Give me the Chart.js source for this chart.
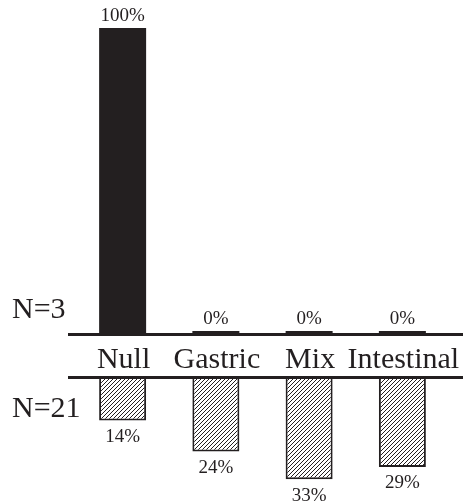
<!DOCTYPE html>
<html>
<head>
<meta charset="utf-8">
<script src="https://cdn.jsdelivr.net/npm/chart.js@4.4.1/dist/chart.umd.min.js"></script>
<style>
  body { margin: 0; background: #fff; }
  canvas { display: block; }
</style>
</head>
<body>
<canvas id="topChart" width="473" height="336"></canvas>
<canvas id="bottomChart" width="473" height="167"></canvas>
<script>
const categories = ['Null', 'Gastric', 'Mix', 'Intestinal'];
const n3Values = [100, 0, 0, 0];
const n21Values = [14, 24, 33, 29];
const groupLabels = ['N=3', 'N=21'];

const ink = '#231f20';
const serif = '"Liberation Serif", "Times New Roman", serif';

// diagonal hatch used for the N=21 bars
function makeHatch() {
    const c = document.createElement('canvas');
    c.width = 4;
    c.height = 4;
    const g = c.getContext('2d');
    g.fillStyle = '#fff';
    g.fillRect(0, 0, 4, 4);
    g.strokeStyle = ink;
    g.lineWidth = 1;
    g.beginPath();
    g.moveTo(0, 4); g.lineTo(4, 0);
    g.moveTo(-1, 1); g.lineTo(1, -1);
    g.moveTo(3, 5); g.lineTo(5, 3);
    g.stroke();
    return g.createPattern(c, 'repeat');
}

const topDecor = {
    id: 'topDecor',
    afterDatasetsDraw(chart) {
        const ctx = chart.ctx;
        const area = chart.chartArea;
        const y0 = chart.scales.y.getPixelForValue(0);
        ctx.save();
        ctx.strokeStyle = ink;
        ctx.lineWidth = 3;
        ctx.beginPath();
        ctx.moveTo(area.left - 8, y0 + 0.5);
        ctx.lineTo(area.right + 14, y0 + 0.5);
        ctx.stroke();

        ctx.fillStyle = ink;
        ctx.font = '19px ' + serif;
        ctx.textAlign = 'center';
        ctx.textBaseline = 'alphabetic';
        chart.getDatasetMeta(0).data.forEach((bar, i) => {
            ctx.fillText(n3Values[i] + '%', bar.x, bar.y - 7);
        });

        ctx.font = '30px ' + serif;
        ctx.textAlign = 'left';
        ctx.fillText(groupLabels[0], 12, y0 - 16);
        ctx.restore();
    }
};

const bottomDecor = {
    id: 'bottomDecor',
    afterDatasetsDraw(chart) {
        const ctx = chart.ctx;
        const area = chart.chartArea;
        const y0 = chart.scales.y.getPixelForValue(0);
        ctx.save();
        ctx.strokeStyle = ink;
        ctx.lineWidth = 3;
        ctx.beginPath();
        ctx.moveTo(area.left - 8, y0 + 0.5);
        ctx.lineTo(area.right + 14, y0 + 0.5);
        ctx.stroke();

        ctx.fillStyle = ink;
        ctx.font = '30px ' + serif;
        ctx.textAlign = 'center';
        ctx.textBaseline = 'alphabetic';
        categories.forEach((name, i) => {
            ctx.fillText(name, chart.scales.x.getPixelForValue(i) + 1, y0 - 9);
        });

        ctx.font = '19px ' + serif;
        ctx.textBaseline = 'top';
        chart.getDatasetMeta(0).data.forEach((bar, i) => {
            ctx.fillText(n21Values[i] + '%', bar.x, bar.y + 7);
        });

        ctx.font = '30px ' + serif;
        ctx.textAlign = 'left';
        ctx.textBaseline = 'alphabetic';
        ctx.fillText(groupLabels[1], 12, y0 + 40);
        ctx.restore();
    }
};

const sharedScales = {
    x: { display: false },
};

new Chart(document.getElementById('topChart'), {
    type: 'bar',
    data: {
        labels: categories,
        datasets: [{
            data: n3Values,
            backgroundColor: ink,
            borderWidth: 0,
            barPercentage: 0.504,
            categoryPercentage: 1,
            minBarLength: 3
        }]
    },
    options: {
        responsive: false,
        animation: false,
        layout: { padding: { top: 28, bottom: 2, left: 76, right: 24 } },
        scales: {
            x: { display: false },
            y: { display: false, min: 0, max: 100 }
        },
        plugins: { legend: { display: false }, tooltip: { enabled: false } }
    },
    plugins: [topDecor]
});

new Chart(document.getElementById('bottomChart'), {
    type: 'bar',
    data: {
        labels: categories,
        datasets: [{
            data: n21Values,
            backgroundColor: makeHatch(),
            borderColor: ink,
            borderWidth: 2,
            borderSkipped: false,
            barPercentage: 0.504,
            categoryPercentage: 1
        }]
    },
    options: {
        responsive: false,
        animation: false,
        layout: { padding: { top: 41, bottom: 2, left: 76, right: 24 } },
        scales: {
            x: { display: false },
            y: { display: false, min: 0, max: 40, reverse: true }
        },
        plugins: { legend: { display: false }, tooltip: { enabled: false } }
    },
    plugins: [bottomDecor]
});
</script>
</body>
</html>
